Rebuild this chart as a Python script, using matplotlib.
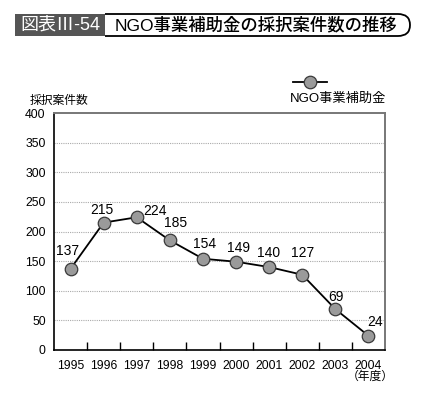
import matplotlib.pyplot as plt
from matplotlib.lines import Line2D
from matplotlib.patches import Rectangle, PathPatch
from matplotlib.path import Path

plt.rcParams['font.family'] = ['Liberation Sans', 'Noto Sans CJK JP', 'DejaVu Sans']

# data
years = ["1995", "1996", "1997", "1998", "1999", "2000", "2001", "2002", "2003", "2004"]
counts = [137, 215, 224, 185, 154, 149, 140, 127, 69, 24]
# label offsets in pixels (dx, dy)
label_off = [(-3, 18), (-2, 13), (18, 6), (6, 17), (2, 15), (2, 14), (-1, 14), (0, 22), (1, 12), (7, 14)]

W, H = 423, 398
fig = plt.figure(figsize=(W / 100, H / 100), dpi=100)


def fx(px):
    return px / W


def fy(py):
    return 1 - py / H


# title boxes
fig.add_artist(Rectangle((fx(15), fy(36)), fx(90), 22 / H, transform=fig.transFigure,
                         facecolor='#555555', edgecolor='none'))
fig.text(fx(60), fy(25), "図表Ⅲ-54", color='white', fontsize=13, ha='center', va='center')

verts = [(105, 14), (398, 14), (410, 14), (410, 25), (410, 25), (410, 36), (398, 36), (105, 36)]
codes = [Path.MOVETO, Path.LINETO, Path.CURVE3, Path.CURVE3, Path.LINETO, Path.CURVE3, Path.CURVE3,
         Path.LINETO]
path = Path([(fx(x), fy(y)) for x, y in verts], codes)
fig.add_artist(PathPatch(path, transform=fig.transFigure, facecolor='white', edgecolor='black', lw=1.3))
fig.text(fx(256), fy(25), "NGO事業補助金の採択案件数の推移", fontsize=12.5, fontweight='medium',
         ha='center', va='center')

ax = fig.add_axes([fx(54), fy(350), fx(385) - fx(54), fy(113) - fy(350)])
x = [i + 0.5 for i in range(len(years))]
ax.plot(x, counts, color='black', lw=1.3, marker='o', markersize=9,
        markerfacecolor='#9a9a9a', markeredgecolor='#3a3a3a', markeredgewidth=0.9, zorder=3)

for xi, v, (dx, dy) in zip(x, counts, label_off):
    ax.annotate(str(v), (xi, v), xytext=(dx, dy), textcoords='offset pixels',
                ha='center', va='center', fontsize=10)

ax.set_xlim(0, len(years))
ax.set_ylim(0, 400)
ax.set_yticks(range(0, 401, 50))
ax.tick_params(axis='y', length=0, labelsize=8.8, pad=6)
ax.set_xticks(x)
ax.set_xticklabels(years)
ax.tick_params(axis='x', length=0, labelsize=8.8, pad=7)
ax.set_xticks(range(1, len(years)), minor=True)
ax.tick_params(axis='x', which='minor', direction='in', length=6, width=1, color='black')

for yv in range(50, 400, 50):
    ax.axhline(yv, color='#aaaaaa', lw=0.8, ls=(0, (1, 1)), zorder=1)

ax.spines['left'].set_color('black')
ax.spines['bottom'].set_color('black')
ax.spines['left'].set_linewidth(1.2)
ax.spines['bottom'].set_linewidth(1.2)
ax.spines['top'].set_color('#777777')
ax.spines['right'].set_color('#777777')
ax.spines['top'].set_linewidth(1.4)
ax.spines['right'].set_linewidth(1.4)

fig.text(fx(30), fy(101), "採択案件数", fontsize=8.5, ha='left', va='center')
fig.text(fx(370), fy(377), "（年度）", fontsize=8.5, ha='center', va='center')

# legend
fig.add_artist(Line2D([fx(293), fx(327)], [fy(82), fy(82)], transform=fig.transFigure,
                      color='black', lw=1.3))
fig.add_artist(Line2D([fx(310)], [fy(82)], transform=fig.transFigure, marker='o', markersize=9,
                      markerfacecolor='#9a9a9a', markeredgecolor='#3a3a3a', markeredgewidth=0.9))
fig.text(fx(338), fy(99), "NGO事業補助金", fontsize=9.5, ha='center', va='center')

fig.savefig('out.png', dpi=100)
